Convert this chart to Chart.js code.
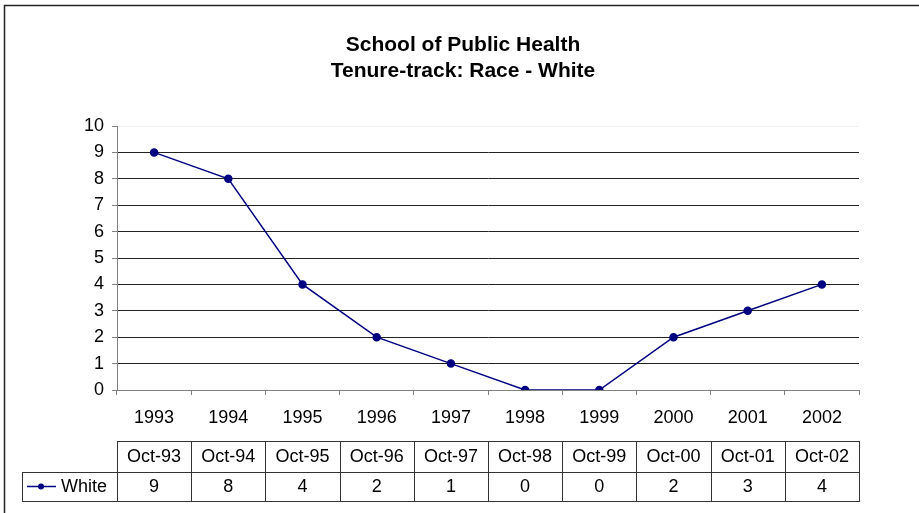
<!DOCTYPE html>
<html>
<head>
<meta charset="utf-8">
<title>School of Public Health - Tenure-track: Race - White</title>
<script src="https://cdn.jsdelivr.net/npm/chart.js@4.4.1/dist/chart.umd.min.js"></script>
<style>
  html, body { margin: 0; padding: 0; background: #fff; }
  canvas { display: block; }
</style>
</head>
<body>
<canvas id="raceChart" width="919" height="513"></canvas>
<script>
/* -------------------------------------------------------
   Data
------------------------------------------------------- */
const titleLines  = ['School of Public Health', 'Tenure-track: Race - White'];
const years       = ['1993','1994','1995','1996','1997','1998','1999','2000','2001','2002'];
const dateLabels  = ['Oct-93','Oct-94','Oct-95','Oct-96','Oct-97','Oct-98','Oct-99','Oct-00','Oct-01','Oct-02'];
const seriesName  = 'White';
const whiteValues = [9, 8, 4, 2, 1, 0, 0, 2, 3, 4];

const NAVY = '#000080';
const FONT = "Arial, 'Liberation Sans', sans-serif";
const TEXT_SIZE = 18;

Chart.defaults.font.family = FONT;
Chart.defaults.color = '#000';

/* -------------------------------------------------------
   Frame + title (drawn like the spreadsheet chart)
------------------------------------------------------- */
const frameTitlePlugin = {
  id: 'frameTitle',
  beforeDraw(chart) {
    const c = chart.ctx;
    c.save();
    c.fillStyle = '#fff';
    c.fillRect(0, 0, chart.width, chart.height);
    c.strokeStyle = '#222';
    c.lineWidth = 1.5;
    c.strokeRect(4.5, 5.5, chart.width + 20, chart.height + 20);
    c.restore();
  },
  afterDraw(chart) {
    const c = chart.ctx;
    c.save();
    c.font = 'bold 21px ' + FONT;
    c.fillStyle = '#000';
    c.textAlign = 'center';
    c.textBaseline = 'middle';
    titleLines.forEach((t, i) => c.fillText(t, 463, 45 + i * 26));
    c.restore();
  }
};

/* -------------------------------------------------------
   Data table under the x axis
------------------------------------------------------- */
const dataTablePlugin = {
  id: 'dataTable',
  afterDraw(chart) {
    const c = chart.ctx;
    const xs = chart.scales.x;
    const n = years.length;
    const left = chart.chartArea.left;
    const step = (chart.chartArea.right - left) / n;
    const top = 441, mid = 472, bottom = 501, legendLeft = 22;

    c.save();
    c.strokeStyle = '#333';
    c.lineWidth = 1;

    // outlines
    c.strokeRect(left + 0.5, top + 0.5, step * n, mid - top);
    c.strokeRect(legendLeft + 0.5, mid + 0.5, chart.chartArea.right - legendLeft, bottom - mid);
    c.beginPath();
    c.moveTo(left + 0.5, mid);
    c.lineTo(left + 0.5, bottom);
    for (let i = 1; i < n; i++) {
      const x = Math.round(left + step * i) + 0.5;
      c.moveTo(x, top);
      c.lineTo(x, bottom);
    }
    c.stroke();

    // text
    c.font = TEXT_SIZE + 'px ' + FONT;
    c.fillStyle = '#000';
    c.textAlign = 'center';
    c.textBaseline = 'middle';
    for (let i = 0; i < n; i++) {
      const cx = xs.getPixelForValue(i);
      c.fillText(dateLabels[i], cx, (top + mid) / 2 + 1);
      c.fillText(String(whiteValues[i]), cx, (mid + bottom) / 2 + 1);
    }

    // legend key
    const ky = (mid + bottom) / 2;
    c.strokeStyle = NAVY;
    c.lineWidth = 1.5;
    c.beginPath();
    c.moveTo(27, ky);
    c.lineTo(56, ky);
    c.stroke();
    c.fillStyle = NAVY;
    c.beginPath();
    c.arc(41, ky, 3, 0, Math.PI * 2);
    c.fill();
    c.fillStyle = '#000';
    c.textAlign = 'left';
    c.fillText(seriesName, 61, ky + 1);
    c.restore();
  }
};

/* -------------------------------------------------------
   Line chart
------------------------------------------------------- */
new Chart(document.getElementById('raceChart'), {
  type: 'line',
  data: {
    labels: years,
    datasets: [{
      label: seriesName,
      data: whiteValues,
      borderColor: NAVY,
      backgroundColor: NAVY,
      borderWidth: 1.5,
      pointRadius: 3.5,
      pointBackgroundColor: NAVY,
      pointBorderColor: NAVY,
      tension: 0,
      fill: false,
    }]
  },
  options: {
    responsive: false,
    animation: false,
    layout: { padding: { top: 126, right: 60, bottom: 83, left: 0 } },
    plugins: {
      legend: { display: false },
      title: { display: false },
      tooltip: { enabled: false }
    },
    scales: {
      x: {
        offset: true,
        afterFit: (s) => { s.height = 40; },
        grid: {
          offset: true,
          drawOnChartArea: false,
          drawTicks: true,
          tickLength: 5,
          color: '#808080'
        },
        border: { color: '#808080', width: 1 },
        ticks: { font: { size: TEXT_SIZE }, padding: 12, maxRotation: 0 }
      },
      y: {
        min: 0,
        max: 10,
        afterFit: (s) => { s.width = 117; },
        grid: {
          color: (ctx) => ctx.tick && ctx.tick.value === 10 ? '#f2f2f2' : '#222',
          tickColor: '#808080',
          tickLength: 5
        },
        border: { color: '#808080', width: 1 },
        ticks: { stepSize: 1, font: { size: TEXT_SIZE }, padding: 8 }
      }
    }
  },
  plugins: [frameTitlePlugin, dataTablePlugin]
});
</script>
</body>
</html>
